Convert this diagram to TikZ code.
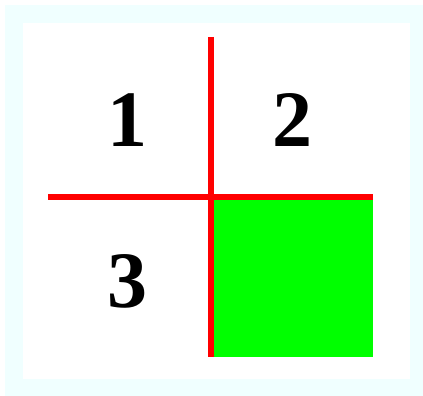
\documentclass[tikz,border=0pt]{standalone}
\usepackage{fontspec}
\setmainfont{Liberation Serif}
\definecolor{framecyan}{RGB}{240,255,255}
\definecolor{gridred}{RGB}{255,0,0}
\definecolor{cellgreen}{RGB}{0,255,0}
\begin{document}
\begin{tikzpicture}[x=1pt,y=-1pt,
  digit/.style={font=\fontsize{80}{80}\selectfont\bfseries, inner sep=0pt, anchor=center},
  gridline/.style={draw=gridred, line width=6pt}]
\useasboundingbox (0,0) rectangle (423,396);
\fill[framecyan] (5,5) rectangle (423,396);
\fill[white] (23,23) rectangle (410,379);
\fill[cellgreen] (211,197) rectangle (373,357);
\coordinate (vtop) at (211,37);
\coordinate (vbot) at (211,357);
\coordinate (hleft) at (48,197);
\coordinate (hright) at (373,197);
\draw[gridline] (vtop) -- (vbot);
\draw[gridline] (hleft) -- (hright);
\node[digit] (one) at (127,120) {1};
\node[digit] (two) at (292,120) {2};
\node[digit] (three) at (127,281) {3};
\end{tikzpicture}
\end{document}
